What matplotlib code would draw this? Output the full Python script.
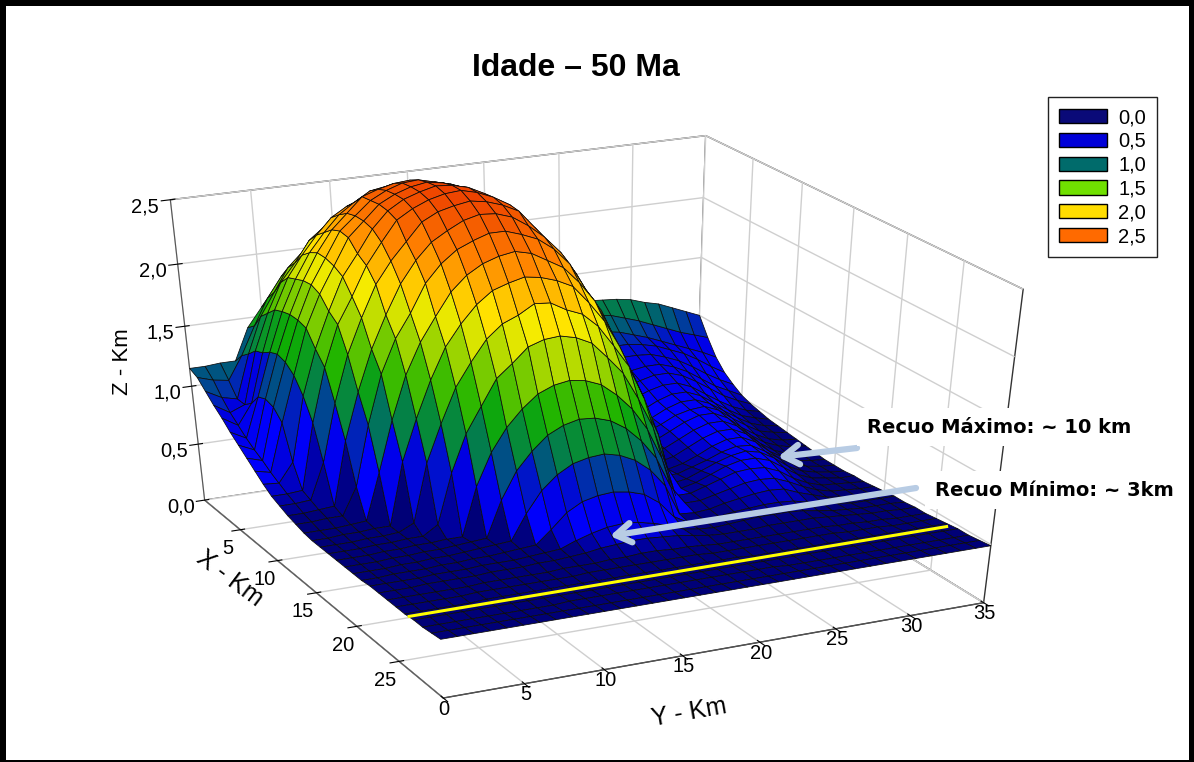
import numpy as np
import matplotlib
matplotlib.use('Agg')
import matplotlib.pyplot as plt
from matplotlib.colors import LinearSegmentedColormap, Normalize
from matplotlib.patches import FancyArrowPatch, Patch, Rectangle

W, H = 1194, 762
plt.rcParams['font.family'] = ['Liberation Sans', 'DejaVu Sans']
plt.rcParams['grid.color'] = '#cfcfcf'
plt.rcParams['grid.linewidth'] = 1.0

x_km = list(range(0, 31))
y_km = list(range(0, 36))
# heights, hundredths of km, one row per x km, one column per y km
z_00 = [115,115,116,116,142,157,167,176,183,187,189,190,189,187,183,176,167,157,142,118,116,118,120,122,124,125,126,126,125,124,122,118,115,110,105,100]
z_01 = [112,108,106,125,148,169,185,195,202,207,214,215,214,212,204,197,187,172,156,130,108,108,110,112,115,117,118,118,116,112,108,103,98,93,89,85]
z_02 = [105,98,95,131,160,178,196,207,219,225,228,230,229,226,222,214,202,188,167,141,100,98,98,100,103,106,108,108,106,102,98,93,88,83,78,72]
z_03 = [98,90,95,138,167,190,204,220,229,238,241,244,243,240,233,226,216,199,178,158,124,92,90,90,92,95,98,100,100,98,95,90,85,78,70,63]
z_04 = [92,84,101,141,174,198,214,228,240,247,251,253,253,251,245,238,226,212,191,169,136,90,84,84,85,88,92,95,95,94,90,85,78,70,63,57]
z_05 = [85,78,111,146,177,201,220,234,246,254,261,263,263,261,254,246,234,220,201,177,146,111,78,76,77,80,84,88,90,90,86,80,72,64,58,52]
z_06 = [79,73,114,149,179,204,224,240,251,262,266,269,270,267,263,254,244,229,211,188,159,122,74,72,72,75,80,84,87,87,83,76,68,60,54,49]
z_07 = [73,69,112,147,179,205,224,243,253,263,269,273,274,271,268,262,250,235,218,196,168,133,83,68,68,70,75,80,83,83,78,70,62,55,50,47]
z_08 = [67,64,104,141,177,202,222,242,253,264,270,274,276,274,270,264,253,242,222,202,177,141,104,66,64,66,70,76,80,80,75,67,59,52,48,45]
z_09 = [61,60,76,129,165,193,218,234,251,263,270,274,277,276,273,267,257,245,226,207,187,149,115,62,60,63,68,74,78,78,73,65,57,50,46,44]
z_10 = [56,56,57,112,155,187,207,229,245,260,267,272,275,276,273,268,261,248,233,214,189,161,124,66,58,62,67,73,76,77,72,63,55,48,45,43]
z_11 = [53,53,54,84,131,168,195,219,235,248,261,267,270,272,270,266,260,246,231,215,189,162,129,69,57,60,66,72,76,76,70,60,52,46,43,42]
z_12 = [50,50,51,52,105,143,175,200,222,238,250,257,263,266,265,261,253,243,230,212,186,159,125,66,55,58,64,70,74,74,68,58,50,45,42,41]
z_13 = [48,48,49,49,72,121,160,186,204,225,238,247,252,256,256,252,247,238,225,204,186,160,121,72,53,56,62,68,72,72,66,56,48,43,41,40]
z_14 = [46,46,46,47,48,87,128,162,186,204,221,232,239,243,245,242,235,228,215,199,175,147,115,61,52,55,60,66,70,70,64,54,47,42,40,39]
z_15 = [45,45,46,46,47,47,99,132,161,185,201,214,223,227,230,228,224,218,204,188,166,139,107,54,53,57,61,66,69,68,61,53,46,42,40,39]
z_16 = [45,45,45,46,46,47,53,101,131,158,176,192,202,207,214,213,206,201,190,173,155,128,96,52,54,59,64,68,70,67,60,51,45,42,40,39]
z_17 = [45,45,45,46,46,47,47,55,96,126,146,166,176,187,191,192,189,183,170,156,134,109,73,53,56,61,66,69,69,65,57,49,44,42,40,40]
z_18 = [45,45,45,46,46,47,47,48,48,88,114,132,145,155,160,162,160,155,145,132,114,88,54,54,58,62,66,67,66,61,53,47,43,42,41,40]
z_19 = [45,45,45,46,46,47,47,48,49,50,80,102,116,127,133,136,135,131,123,111,95,69,53,53,56,59,62,63,62,57,51,46,43,42,41,41]
z_20 = [45,45,45,46,46,47,47,48,49,50,51,72,89,100,107,110,111,108,102,92,77,51,50,51,54,56,58,59,58,53,49,45,43,42,42,42]
z_21 = [45,45,46,46,46,47,47,48,48,49,50,51,62,74,81,84,85,83,79,70,56,49,49,50,52,53,54,54,53,50,47,45,43,43,43,43]
z_22 = [46,46,46,46,47,47,47,48,48,48,49,50,51,56,60,63,64,63,60,56,51,49,48,49,50,51,51,51,50,48,46,45,44,44,44,43]
z_23 = [46,46,46,47,47,47,47,48,48,48,49,49,50,51,53,54,55,55,54,53,51,49,48,48,48,49,49,49,49,48,47,46,45,45,44,44]
z_24 = [46,46,46,46,46,46,47,47,47,47,47,48,48,48,49,49,50,50,49,49,48,47,47,47,47,47,47,47,47,46,46,45,45,44,44,44]
z_25 = [46,46,46,46,46,47,47,47,47,47,47,47,48,48,48,48,48,48,48,48,47,47,47,47,47,47,47,47,47,46,46,46,45,45,45,45]
z_26 = [46,46,46,46,46,47,47,47,47,47,47,47,47,47,47,47,47,47,47,47,47,47,46,46,46,46,46,46,46,46,46,46,46,46,46,46]
z_27 = [47,47,47,47,47,47,47,47,47,47,47,47,47,47,47,47,47,47,47,47,47,47,47,47,47,47,47,47,47,47,47,47,47,47,47,47]
z_28 = [47,47,47,47,47,47,47,47,47,48,48,48,48,48,48,48,48,48,48,48,48,48,48,47,47,47,47,47,47,47,47,47,47,47,47,47]
z_29 = [48,48,48,48,48,48,48,48,48,48,48,48,48,48,48,48,48,48,48,48,48,48,48,48,48,48,48,48,48,48,48,48,48,48,48,48]
z_30 = [49,49,49,49,49,49,49,49,49,49,49,49,49,49,49,49,49,49,49,49,49,49,49,49,49,49,49,49,49,49,49,49,49,49,49,49]
z_rows = [z_00,z_01,z_02,z_03,z_04,z_05,z_06,z_07,z_08,z_09,z_10,z_11,z_12,z_13,z_14,z_15,
          z_16,z_17,z_18,z_19,z_20,z_21,z_22,z_23,z_24,z_25,z_26,z_27,z_28,z_29,z_30]

x_ticks = [5, 10, 15, 20, 25]
y_ticks = [0, 5, 10, 15, 20, 25, 30, 35]
z_ticks = [0.0, 0.5, 1.0, 1.5, 2.0, 2.5]
z_labels = ['0,0', '0,5', '1,0', '1,5', '2,0', '2,5']
legend_colors = ['#0a0a78', '#0000d8', '#006b6b', '#70e000', '#ffdd00', '#ff6a00']
yellow_x = [26.5, 26.5]
yellow_y = [0, 34.6]
yellow_z = [0.47, 0.47]

# colour follows height but starts at the lowest part of the sheet
cmap = LinearSegmentedColormap.from_list('idade', [
    (0.00, '#00006e'), (0.06, '#00007a'), (0.13, '#0000ff'), (0.25, '#0000e0'), (0.34, '#007060'),
    (0.46, '#10b000'), (0.70, '#ffee00'), (0.85, '#ff8000'), (1.00, '#e83000')])
norm = Normalize(0.35, 2.85)

fig = plt.figure(figsize=(W / 100, H / 100), dpi=100)
ax = fig.add_axes([0.0365, 0.0672, 0.8763, 0.7862], projection='3d')
# the picture is not square-scaled, so let the axes box keep its own shape
ax.apply_aspect = lambda position=None: ax._set_position(ax.get_position(original=True), 'active')
ax.set_xlim(0, 30, view_margin=0)
ax.set_ylim(0, 35, view_margin=0)
ax.set_zlim(0, 2.5, view_margin=0)
ax.view_init(elev=32.33, azim=-25.66)
ax.set_proj_type('persp', focal_length=0.663)
ax.set_box_aspect((1, 0.9365, 0.9941))

X, Y = np.meshgrid(x_km, y_km, indexing='ij')
Z = np.array(z_rows) / 100.0
ax.computed_zorder = False
ax.plot_surface(X, Y, Z, rstride=1, cstride=1, facecolors=cmap(norm(Z)), shade=False,
                edgecolor='#0c0c0c', linewidth=0.55, antialiased=True, zorder=1)
ax.plot(yellow_x, yellow_y, yellow_z, color='#ffff00', lw=2.2, zorder=5)

ax.set_xticks(x_ticks)
ax.set_yticks(y_ticks)
ax.set_zticks(z_ticks)
ax.set_zticklabels(z_labels)
ax.tick_params(labelsize=14.5)
ax.xaxis.set_tick_params(pad=0)
ax.yaxis.set_tick_params(pad=-7)
ax.zaxis.set_tick_params(pad=2)
ax.zaxis.set_ticks_position('lower')
for axis in (ax.xaxis, ax.yaxis, ax.zaxis):
    axis.set_pane_color('white')
    axis.pane.set_edgecolor('#333333')
    axis.line.set_color('#555555')

for txt, tx, ty, rot, fs in [('X - Km', 230, 578, -37, 18), ('Y - Km', 689, 713, 10, 18), ('Z - Km', 123, 362, 90, 16)]:
    ax.text2D(tx / W, 1 - ty / H, txt, transform=fig.transFigure, rotation=rot, fontsize=fs,
              ha='center', va='center', rotation_mode='anchor')

fig.text(576 / W, 1 - 68 / H, 'Idade – 50 Ma', fontsize=23, fontweight='bold', ha='center', va='center')

handles = [Patch(facecolor=c, edgecolor='black', lw=1) for c in legend_colors]
fig.legend(handles, z_labels, loc='upper left', bbox_to_anchor=(1048 / W, 1 - 97 / H), fontsize=14.5,
           fancybox=False, framealpha=1, edgecolor='#222222', labelspacing=0.24, handlelength=2.4,
           handleheight=0.7, handletextpad=0.55, borderpad=0.55, borderaxespad=0)

for txt, tx, ty in [('Recuo Máximo: ~ 10 km', 867, 427), ('Recuo Mínimo: ~ 3km', 935, 490)]:
    fig.text(tx / W, 1 - ty / H, txt, family=['DejaVu Sans'], fontsize=14, fontweight='bold', ha='left', va='center',
             bbox=dict(facecolor='white', edgecolor='none', pad=7))
for tail, tip in [((857, 448), (778, 457)), ((916, 488), (610, 536))]:
    fig.add_artist(FancyArrowPatch((tail[0] / W, 1 - tail[1] / H), (tip[0] / W, 1 - tip[1] / H),
                                   transform=fig.transFigure, arrowstyle='->,head_length=11,head_width=7',
                                   color='#b8cce4', lw=4.5, shrinkA=0, shrinkB=0))

# black picture frame
for x0, y0, x1, y1 in [(0, 0, 6, 762), (1189, 0, 1194, 762), (0, 0, 1194, 6), (0, 760, 1194, 762)]:
    fig.add_artist(Rectangle((x0 / W, 1 - y1 / H), (x1 - x0) / W, (y1 - y0) / H, transform=fig.transFigure,
                             facecolor='black', edgecolor='none'))

fig.savefig('out.png', dpi=100)
